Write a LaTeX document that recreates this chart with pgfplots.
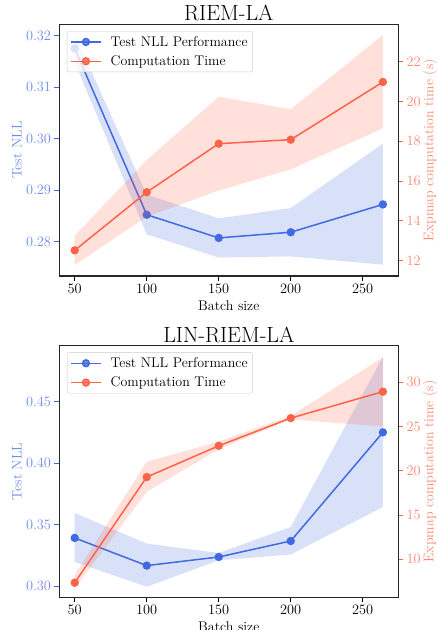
\documentclass[border=0pt]{standalone}
\usepackage{pgfplots}
\pgfplotsset{compat=1.18}
\definecolor{royal}{RGB}{65,105,225}
\definecolor{tomato}{RGB}{255,99,71}
\definecolor{royallab}{RGB}{110,140,240}
\definecolor{tomlab}{RGB}{255,135,115}
\newcommand{\fs}{\fontsize{14bp}{16bp}\selectfont}
\pgfplotsset{
  base/.style={
    scale only axis, width=339bp, height=251.7bp, anchor=south west,
    xmin=39.3, xmax=274.7, xtick={50,100,150,200,250},
    tick align=outside, major tick length=4.8bp,
    tick label style={font=\fs},
    label style={font=\fs},
    xticklabel style={/pgf/number format/fixed, /pgf/number format/precision=0},
  },
  left/.style={base, xtick pos=bottom, ytick pos=left,
    ytick style={royal, line width=0.9bp}, xtick style={black, line width=0.9bp},
    yticklabel style={/tikz/color=royallab, /pgf/number format/fixed, /pgf/number format/fixed zerofill, /pgf/number format/precision=2},
    ylabel style={/tikz/color=royallab, at={(axis description cs:0,0.5)}, anchor=center, yshift=42.3bp},
    axis line style={line width=1.1bp, black!85},
    xlabel={Batch size},
    title style={font=\fontsize{22bp}{26bp}\selectfont, yshift=-6.5bp},
  },
  right/.style={base, hide x axis, axis y line*=right, y axis line style={-, draw=none},
    ytick style={tomato, line width=0.9bp},
    yticklabel style={/tikz/color=tomlab, /pgf/number format/fixed, /pgf/number format/precision=0},
    ylabel style={/tikz/color=tomlab, at={(axis description cs:1,0.5)}, anchor=center, yshift=-31.5bp},
    ylabel={Expmap computation time (s)},
    legend cell align=left,
    legend style={at={(0.0227,0.973)}, anchor=north west, draw=black!20, rounded corners=2bp,
      fill=white, fill opacity=0.8, text opacity=1, font=\fs, inner xsep=3bp, inner ysep=3bp,
      row sep=4bp, column sep=7bp},
    legend image code/.code={\draw[mark repeat=2,mark phase=2,##1] plot coordinates {(0bp,0bp) (15bp,0bp) (30bp,0bp)};},
    after end axis/.code={\draw[line width=1.1bp, black!85] (rel axis cs:0,0) rectangle (rel axis cs:1,1);},
  },
  nll/.style={color=royal, mark=*, mark size=3.4bp, line width=1.5bp},
  tim/.style={color=tomato, mark=*, mark size=3.4bp, line width=1.5bp},
}
\begin{document}
\begin{tikzpicture}[x=1bp,y=1bp]
\useasboundingbox (0,0) rectangle (438,630);
% ---------------- Top: RIEM-LA ----------------
\begin{axis}[left, at={(59.3bp,354bp)}, title={RIEM-LA},
  ymin=0.2733, ymax=0.3222, ytick={0.28,0.29,0.30,0.31,0.32}, ylabel={Test NLL}]
\addplot[fill=royal, fill opacity=0.2, draw=none] coordinates
  {(50,0.3203) (100,0.2891) (150,0.2845) (200,0.2865) (264,0.2990)
   (264,0.2755) (200,0.2771) (150,0.2769) (100,0.2814) (50,0.3148)} -- cycle;
\addplot[nll] coordinates {(50,0.3175) (100,0.2852) (150,0.2807) (200,0.2818) (264,0.2872)};
\end{axis}
\begin{axis}[right, at={(59.3bp,354bp)},
  ymin=11.23, ymax=23.88, ytick={12,14,16,18,20,22}]
\addlegendimage{nll}
\addlegendentry{Test NLL Performance}
\addplot[fill=tomato, fill opacity=0.2, draw=none, forget plot] coordinates
  {(50,13.26) (100,17.06) (150,20.24) (200,19.61) (264,23.34)
   (264,18.65) (200,16.59) (150,15.52) (100,14.21) (50,11.78)} -- cycle;
\addplot[tim] coordinates {(50,12.52) (100,15.44) (150,17.88) (200,18.08) (264,20.98)};
\addlegendentry{Computation Time}
\end{axis}
% ---------------- Bottom: LIN-RIEM-LA ----------------
\begin{axis}[left, at={(59.3bp,32.7bp)}, title={LIN-RIEM-LA},
  ymin=0.2908, ymax=0.4956, ytick={0.30,0.35,0.40,0.45}, ylabel={Test NLL}]
\addplot[fill=royal, fill opacity=0.2, draw=none] coordinates
  {(50,0.3594) (100,0.3345) (150,0.3269) (200,0.3480) (264,0.4866)
   (264,0.3643) (200,0.3256) (150,0.3209) (100,0.2994) (50,0.3196)} -- cycle;
\addplot[nll] coordinates {(50,0.3391) (100,0.3166) (150,0.3236) (200,0.3366) (264,0.4250)};
\end{axis}
\begin{axis}[right, at={(59.3bp,32.7bp)},
  ymin=5.71, ymax=34.14, ytick={10,15,20,25,30}]
\addlegendimage{nll}
\addlegendentry{Test NLL Performance}
\addplot[fill=tomato, fill opacity=0.2, draw=none, forget plot] coordinates
  {(50,8.23) (100,21.02) (150,23.30) (200,26.20) (264,32.80)
   (264,25.00) (200,25.80) (150,22.44) (100,17.63) (50,6.72)} -- cycle;
\addplot[tim] coordinates {(50,7.36) (100,19.29) (150,22.82) (200,25.95) (264,28.94)};
\addlegendentry{Computation Time}
\end{axis}
\end{tikzpicture}
\end{document}
